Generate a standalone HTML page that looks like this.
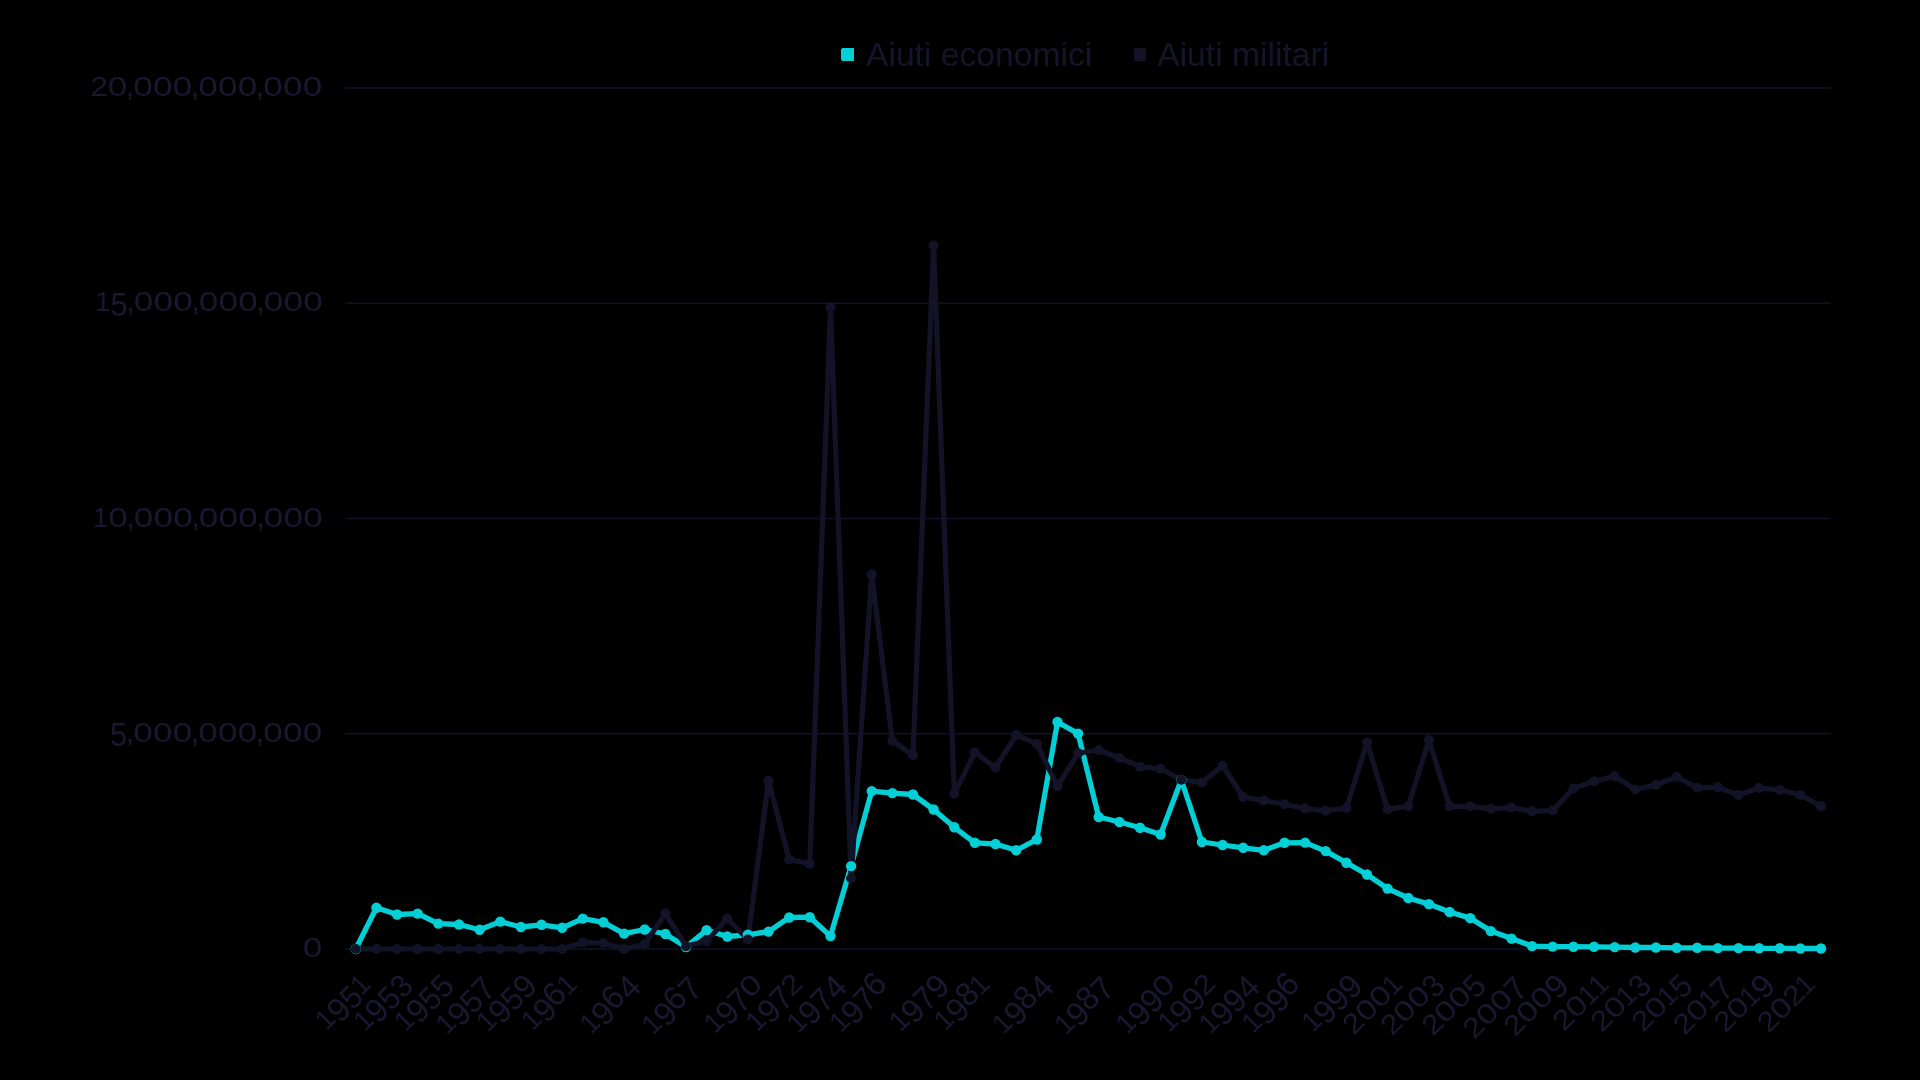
<!DOCTYPE html>
<html lang="it"><head><meta charset="utf-8"><title>Aiuti economici e militari</title>
<style>html,body{margin:0;padding:0;background:#000;overflow:hidden}svg{display:block;will-change:transform}text{font-family:"Liberation Sans",sans-serif;}</style></head><body>
<svg width="1920" height="1080" viewBox="0 0 1920 1080">
<rect x="0" y="0" width="1920" height="1080" fill="#000"/>
<g stroke="#11112B" stroke-width="1.5" fill="none">
<line x1="345.2" y1="88.0" x2="1830.6" y2="88.0"/>
<line x1="345.2" y1="303.25" x2="1830.6" y2="303.25"/>
<line x1="345.2" y1="518.5" x2="1830.6" y2="518.5"/>
<line x1="345.2" y1="733.75" x2="1830.6" y2="733.75"/>
<line x1="345.2" y1="949.0" x2="1830.6" y2="949.0"/>
</g>
<g fill="#181930">
<text transform="translate(90.19 96.20) scale(1.142 1)" font-size="28.07">2</text><text transform="translate(107.63 96.20) scale(1.263 1)" font-size="27.82">0</text><text transform="translate(125.65 96.20) scale(1.019 1)" font-size="30.00">,</text><text transform="translate(133.23 96.20) scale(1.263 1)" font-size="27.82">0</text><text transform="translate(152.93 96.20) scale(1.263 1)" font-size="27.82">0</text><text transform="translate(172.63 96.20) scale(1.263 1)" font-size="27.82">0</text><text transform="translate(190.65 96.20) scale(1.019 1)" font-size="30.00">,</text><text transform="translate(198.23 96.20) scale(1.263 1)" font-size="27.82">0</text><text transform="translate(217.93 96.20) scale(1.263 1)" font-size="27.82">0</text><text transform="translate(237.63 96.20) scale(1.263 1)" font-size="27.82">0</text><text transform="translate(255.65 96.20) scale(1.019 1)" font-size="30.00">,</text><text transform="translate(263.23 96.20) scale(1.263 1)" font-size="27.82">0</text><text transform="translate(282.93 96.20) scale(1.263 1)" font-size="27.82">0</text><text transform="translate(302.63 96.20) scale(1.263 1)" font-size="27.82">0</text>
<text transform="translate(95.32 311.45) scale(0.981 1)" font-size="27.91">1</text><text transform="translate(110.57 315.65) scale(0.951 1)" font-size="32.39">5</text><text transform="translate(126.25 311.45) scale(1.019 1)" font-size="30.00">,</text><text transform="translate(133.83 311.45) scale(1.263 1)" font-size="27.82">0</text><text transform="translate(153.53 311.45) scale(1.263 1)" font-size="27.82">0</text><text transform="translate(173.23 311.45) scale(1.263 1)" font-size="27.82">0</text><text transform="translate(191.25 311.45) scale(1.019 1)" font-size="30.00">,</text><text transform="translate(198.83 311.45) scale(1.263 1)" font-size="27.82">0</text><text transform="translate(218.53 311.45) scale(1.263 1)" font-size="27.82">0</text><text transform="translate(238.23 311.45) scale(1.263 1)" font-size="27.82">0</text><text transform="translate(256.25 311.45) scale(1.019 1)" font-size="30.00">,</text><text transform="translate(263.83 311.45) scale(1.263 1)" font-size="27.82">0</text><text transform="translate(283.53 311.45) scale(1.263 1)" font-size="27.82">0</text><text transform="translate(303.23 311.45) scale(1.263 1)" font-size="27.82">0</text>
<text transform="translate(93.12 526.70) scale(0.981 1)" font-size="27.91">1</text><text transform="translate(108.23 526.70) scale(1.263 1)" font-size="27.82">0</text><text transform="translate(126.25 526.70) scale(1.019 1)" font-size="30.00">,</text><text transform="translate(133.83 526.70) scale(1.263 1)" font-size="27.82">0</text><text transform="translate(153.53 526.70) scale(1.263 1)" font-size="27.82">0</text><text transform="translate(173.23 526.70) scale(1.263 1)" font-size="27.82">0</text><text transform="translate(191.25 526.70) scale(1.019 1)" font-size="30.00">,</text><text transform="translate(198.83 526.70) scale(1.263 1)" font-size="27.82">0</text><text transform="translate(218.53 526.70) scale(1.263 1)" font-size="27.82">0</text><text transform="translate(238.23 526.70) scale(1.263 1)" font-size="27.82">0</text><text transform="translate(256.25 526.70) scale(1.019 1)" font-size="30.00">,</text><text transform="translate(263.83 526.70) scale(1.263 1)" font-size="27.82">0</text><text transform="translate(283.53 526.70) scale(1.263 1)" font-size="27.82">0</text><text transform="translate(303.23 526.70) scale(1.263 1)" font-size="27.82">0</text>
<text transform="translate(109.97 746.15) scale(0.951 1)" font-size="32.39">5</text><text transform="translate(125.65 741.95) scale(1.019 1)" font-size="30.00">,</text><text transform="translate(133.23 741.95) scale(1.263 1)" font-size="27.82">0</text><text transform="translate(152.93 741.95) scale(1.263 1)" font-size="27.82">0</text><text transform="translate(172.63 741.95) scale(1.263 1)" font-size="27.82">0</text><text transform="translate(190.65 741.95) scale(1.019 1)" font-size="30.00">,</text><text transform="translate(198.23 741.95) scale(1.263 1)" font-size="27.82">0</text><text transform="translate(217.93 741.95) scale(1.263 1)" font-size="27.82">0</text><text transform="translate(237.63 741.95) scale(1.263 1)" font-size="27.82">0</text><text transform="translate(255.65 741.95) scale(1.019 1)" font-size="30.00">,</text><text transform="translate(263.23 741.95) scale(1.263 1)" font-size="27.82">0</text><text transform="translate(282.93 741.95) scale(1.263 1)" font-size="27.82">0</text><text transform="translate(302.63 741.95) scale(1.263 1)" font-size="27.82">0</text>
<text transform="translate(302.73 957.20) scale(1.263 1)" font-size="27.82">0</text>
</g>
<g fill="#181930">
<g transform="translate(371.3 986.5999999999999) rotate(-45)"><text transform="translate(-63.28 0.00) scale(0.981 1)" font-size="27.91">1</text><text transform="translate(-48.34 4.40) scale(0.996 1)" font-size="33.05">9</text><text transform="translate(-30.23 4.20) scale(0.951 1)" font-size="32.39">5</text><text transform="translate(-13.88 0.00) scale(0.981 1)" font-size="27.91">1</text></g>
<g transform="translate(411.1 985.8) rotate(-45)"><text transform="translate(-65.68 0.00) scale(0.981 1)" font-size="27.91">1</text><text transform="translate(-50.74 4.40) scale(0.996 1)" font-size="33.05">9</text><text transform="translate(-32.63 4.20) scale(0.951 1)" font-size="32.39">5</text><text transform="translate(-15.34 4.20) scale(0.930 1)" font-size="32.20">3</text></g>
<g transform="translate(452.3 985.8) rotate(-45)"><text transform="translate(-66.08 0.00) scale(0.981 1)" font-size="27.91">1</text><text transform="translate(-51.14 4.40) scale(0.996 1)" font-size="33.05">9</text><text transform="translate(-33.03 4.20) scale(0.951 1)" font-size="32.39">5</text><text transform="translate(-15.83 4.20) scale(0.951 1)" font-size="32.39">5</text></g>
<g transform="translate(493.6 988.8) rotate(-45)"><text transform="translate(-65.88 0.00) scale(0.981 1)" font-size="27.91">1</text><text transform="translate(-50.94 4.40) scale(0.996 1)" font-size="33.05">9</text><text transform="translate(-32.83 4.20) scale(0.951 1)" font-size="32.39">5</text><text transform="translate(-16.02 4.20) scale(0.956 1)" font-size="33.14">7</text></g>
<g transform="translate(534.9 985.8) rotate(-45)"><text transform="translate(-66.68 0.00) scale(0.981 1)" font-size="27.91">1</text><text transform="translate(-51.74 4.40) scale(0.996 1)" font-size="33.05">9</text><text transform="translate(-33.63 4.20) scale(0.951 1)" font-size="32.39">5</text><text transform="translate(-16.74 4.40) scale(0.996 1)" font-size="33.05">9</text></g>
<g transform="translate(577.7 986.5999999999999) rotate(-45)"><text transform="translate(-63.88 0.00) scale(0.981 1)" font-size="27.91">1</text><text transform="translate(-48.94 4.40) scale(0.996 1)" font-size="33.05">9</text><text transform="translate(-31.27 0.00) scale(0.997 1)" font-size="33.05">6</text><text transform="translate(-13.88 0.00) scale(0.981 1)" font-size="27.91">1</text></g>
<g transform="translate(639.2 986.5999999999999) rotate(-45)"><text transform="translate(-68.28 0.00) scale(0.981 1)" font-size="27.91">1</text><text transform="translate(-53.34 4.40) scale(0.996 1)" font-size="33.05">9</text><text transform="translate(-35.67 0.00) scale(0.997 1)" font-size="33.05">6</text><text transform="translate(-16.94 4.20) scale(0.970 1)" font-size="33.14">4</text></g>
<g transform="translate(700.0 988.8) rotate(-45)"><text transform="translate(-66.48 0.00) scale(0.981 1)" font-size="27.91">1</text><text transform="translate(-51.54 4.40) scale(0.996 1)" font-size="33.05">9</text><text transform="translate(-33.87 0.00) scale(0.997 1)" font-size="33.05">6</text><text transform="translate(-16.02 4.20) scale(0.956 1)" font-size="33.14">7</text></g>
<g transform="translate(763.1 986.4) rotate(-45)"><text transform="translate(-68.08 0.00) scale(0.981 1)" font-size="27.91">1</text><text transform="translate(-53.14 4.40) scale(0.996 1)" font-size="33.05">9</text><text transform="translate(-35.42 4.20) scale(0.956 1)" font-size="33.14">7</text><text transform="translate(-18.17 0.00) scale(1.263 1)" font-size="27.82">0</text></g>
<g transform="translate(803.5 986.0999999999999) rotate(-45)"><text transform="translate(-65.88 0.00) scale(0.981 1)" font-size="27.91">1</text><text transform="translate(-50.94 4.40) scale(0.996 1)" font-size="33.05">9</text><text transform="translate(-33.22 4.20) scale(0.956 1)" font-size="33.14">7</text><text transform="translate(-16.21 0.00) scale(1.142 1)" font-size="28.07">2</text></g>
<g transform="translate(845.6 986.5999999999999) rotate(-45)"><text transform="translate(-67.48 0.00) scale(0.981 1)" font-size="27.91">1</text><text transform="translate(-52.54 4.40) scale(0.996 1)" font-size="33.05">9</text><text transform="translate(-34.82 4.20) scale(0.956 1)" font-size="33.14">7</text><text transform="translate(-16.94 4.20) scale(0.970 1)" font-size="33.14">4</text></g>
<g transform="translate(887.7 986.5999999999999) rotate(-45)"><text transform="translate(-66.48 0.00) scale(0.981 1)" font-size="27.91">1</text><text transform="translate(-51.54 4.40) scale(0.996 1)" font-size="33.05">9</text><text transform="translate(-33.82 4.20) scale(0.956 1)" font-size="33.14">7</text><text transform="translate(-16.87 0.00) scale(0.997 1)" font-size="33.05">6</text></g>
<g transform="translate(947.6 985.8) rotate(-45)"><text transform="translate(-66.48 0.00) scale(0.981 1)" font-size="27.91">1</text><text transform="translate(-51.54 4.40) scale(0.996 1)" font-size="33.05">9</text><text transform="translate(-33.82 4.20) scale(0.956 1)" font-size="33.14">7</text><text transform="translate(-16.74 4.40) scale(0.996 1)" font-size="33.05">9</text></g>
<g transform="translate(990.4 986.5999999999999) rotate(-45)"><text transform="translate(-63.88 0.00) scale(0.981 1)" font-size="27.91">1</text><text transform="translate(-48.94 4.40) scale(0.996 1)" font-size="33.05">9</text><text transform="translate(-31.01 0.00) scale(0.980 1)" font-size="33.05">8</text><text transform="translate(-13.88 0.00) scale(0.981 1)" font-size="27.91">1</text></g>
<g transform="translate(1051.9 986.5999999999999) rotate(-45)"><text transform="translate(-68.28 0.00) scale(0.981 1)" font-size="27.91">1</text><text transform="translate(-53.34 4.40) scale(0.996 1)" font-size="33.05">9</text><text transform="translate(-35.41 0.00) scale(0.980 1)" font-size="33.05">8</text><text transform="translate(-16.94 4.20) scale(0.970 1)" font-size="33.14">4</text></g>
<g transform="translate(1112.7 988.8) rotate(-45)"><text transform="translate(-66.48 0.00) scale(0.981 1)" font-size="27.91">1</text><text transform="translate(-51.54 4.40) scale(0.996 1)" font-size="33.05">9</text><text transform="translate(-33.61 0.00) scale(0.980 1)" font-size="33.05">8</text><text transform="translate(-16.02 4.20) scale(0.956 1)" font-size="33.14">7</text></g>
<g transform="translate(1175.8 986.4) rotate(-45)"><text transform="translate(-68.88 0.00) scale(0.981 1)" font-size="27.91">1</text><text transform="translate(-53.94 4.40) scale(0.996 1)" font-size="33.05">9</text><text transform="translate(-36.14 4.40) scale(0.996 1)" font-size="33.05">9</text><text transform="translate(-18.17 0.00) scale(1.263 1)" font-size="27.82">0</text></g>
<g transform="translate(1216.2 986.0999999999999) rotate(-45)"><text transform="translate(-66.68 0.00) scale(0.981 1)" font-size="27.91">1</text><text transform="translate(-51.74 4.40) scale(0.996 1)" font-size="33.05">9</text><text transform="translate(-33.94 4.40) scale(0.996 1)" font-size="33.05">9</text><text transform="translate(-16.21 0.00) scale(1.142 1)" font-size="28.07">2</text></g>
<g transform="translate(1258.3 986.5999999999999) rotate(-45)"><text transform="translate(-68.28 0.00) scale(0.981 1)" font-size="27.91">1</text><text transform="translate(-53.34 4.40) scale(0.996 1)" font-size="33.05">9</text><text transform="translate(-35.54 4.40) scale(0.996 1)" font-size="33.05">9</text><text transform="translate(-16.94 4.20) scale(0.970 1)" font-size="33.14">4</text></g>
<g transform="translate(1300.5 986.5999999999999) rotate(-45)"><text transform="translate(-67.28 0.00) scale(0.981 1)" font-size="27.91">1</text><text transform="translate(-52.34 4.40) scale(0.996 1)" font-size="33.05">9</text><text transform="translate(-34.54 4.40) scale(0.996 1)" font-size="33.05">9</text><text transform="translate(-16.87 0.00) scale(0.997 1)" font-size="33.05">6</text></g>
<g transform="translate(1360.4 985.8) rotate(-45)"><text transform="translate(-67.28 0.00) scale(0.981 1)" font-size="27.91">1</text><text transform="translate(-52.34 4.40) scale(0.996 1)" font-size="33.05">9</text><text transform="translate(-34.54 4.40) scale(0.996 1)" font-size="33.05">9</text><text transform="translate(-16.74 4.40) scale(0.996 1)" font-size="33.05">9</text></g>
<g transform="translate(1403.1 986.5999999999999) rotate(-45)"><text transform="translate(-69.71 0.00) scale(1.142 1)" font-size="28.07">2</text><text transform="translate(-52.27 0.00) scale(1.263 1)" font-size="27.82">0</text><text transform="translate(-32.57 0.00) scale(1.263 1)" font-size="27.82">0</text><text transform="translate(-13.88 0.00) scale(0.981 1)" font-size="27.91">1</text></g>
<g transform="translate(1442.9 985.8) rotate(-45)"><text transform="translate(-72.11 0.00) scale(1.142 1)" font-size="28.07">2</text><text transform="translate(-54.67 0.00) scale(1.263 1)" font-size="27.82">0</text><text transform="translate(-34.97 0.00) scale(1.263 1)" font-size="27.82">0</text><text transform="translate(-15.34 4.20) scale(0.930 1)" font-size="32.20">3</text></g>
<g transform="translate(1484.2 985.8) rotate(-45)"><text transform="translate(-72.51 0.00) scale(1.142 1)" font-size="28.07">2</text><text transform="translate(-55.07 0.00) scale(1.263 1)" font-size="27.82">0</text><text transform="translate(-35.37 0.00) scale(1.263 1)" font-size="27.82">0</text><text transform="translate(-15.83 4.20) scale(0.951 1)" font-size="32.39">5</text></g>
<g transform="translate(1525.5 988.8) rotate(-45)"><text transform="translate(-72.31 0.00) scale(1.142 1)" font-size="28.07">2</text><text transform="translate(-54.87 0.00) scale(1.263 1)" font-size="27.82">0</text><text transform="translate(-35.17 0.00) scale(1.263 1)" font-size="27.82">0</text><text transform="translate(-16.02 4.20) scale(0.956 1)" font-size="33.14">7</text></g>
<g transform="translate(1566.7 985.8) rotate(-45)"><text transform="translate(-73.11 0.00) scale(1.142 1)" font-size="28.07">2</text><text transform="translate(-55.67 0.00) scale(1.263 1)" font-size="27.82">0</text><text transform="translate(-35.97 0.00) scale(1.263 1)" font-size="27.82">0</text><text transform="translate(-16.74 4.40) scale(0.996 1)" font-size="33.05">9</text></g>
<g transform="translate(1609.5 986.5999999999999) rotate(-45)"><text transform="translate(-64.41 0.00) scale(1.142 1)" font-size="28.07">2</text><text transform="translate(-46.97 0.00) scale(1.263 1)" font-size="27.82">0</text><text transform="translate(-28.28 0.00) scale(0.981 1)" font-size="27.91">1</text><text transform="translate(-13.88 0.00) scale(0.981 1)" font-size="27.91">1</text></g>
<g transform="translate(1649.3 985.8) rotate(-45)"><text transform="translate(-66.81 0.00) scale(1.142 1)" font-size="28.07">2</text><text transform="translate(-49.37 0.00) scale(1.263 1)" font-size="27.82">0</text><text transform="translate(-30.68 0.00) scale(0.981 1)" font-size="27.91">1</text><text transform="translate(-15.34 4.20) scale(0.930 1)" font-size="32.20">3</text></g>
<g transform="translate(1690.6 985.8) rotate(-45)"><text transform="translate(-67.21 0.00) scale(1.142 1)" font-size="28.07">2</text><text transform="translate(-49.77 0.00) scale(1.263 1)" font-size="27.82">0</text><text transform="translate(-31.08 0.00) scale(0.981 1)" font-size="27.91">1</text><text transform="translate(-15.83 4.20) scale(0.951 1)" font-size="32.39">5</text></g>
<g transform="translate(1731.8 988.8) rotate(-45)"><text transform="translate(-67.01 0.00) scale(1.142 1)" font-size="28.07">2</text><text transform="translate(-49.57 0.00) scale(1.263 1)" font-size="27.82">0</text><text transform="translate(-30.88 0.00) scale(0.981 1)" font-size="27.91">1</text><text transform="translate(-16.02 4.20) scale(0.956 1)" font-size="33.14">7</text></g>
<g transform="translate(1773.1 985.8) rotate(-45)"><text transform="translate(-67.81 0.00) scale(1.142 1)" font-size="28.07">2</text><text transform="translate(-50.37 0.00) scale(1.263 1)" font-size="27.82">0</text><text transform="translate(-31.68 0.00) scale(0.981 1)" font-size="27.91">1</text><text transform="translate(-16.74 4.40) scale(0.996 1)" font-size="33.05">9</text></g>
<g transform="translate(1815.9 986.5999999999999) rotate(-45)"><text transform="translate(-67.21 0.00) scale(1.142 1)" font-size="28.07">2</text><text transform="translate(-49.77 0.00) scale(1.263 1)" font-size="27.82">0</text><text transform="translate(-30.61 0.00) scale(1.142 1)" font-size="28.07">2</text><text transform="translate(-13.88 0.00) scale(0.981 1)" font-size="27.91">1</text></g>
</g>
<path d="M842,48H854V61H842V60H841V49H842Z" fill="#03CFD6"/>
<text x="866.0" y="65.9" font-size="33" fill="#14152B" textLength="226.2" lengthAdjust="spacingAndGlyphs">Aiuti economici</text>
<rect x="1134" y="48" width="12" height="13" fill="#121327"/>
<text x="1157.2" y="65.9" font-size="33" fill="#14152B" textLength="172" lengthAdjust="spacingAndGlyphs">Aiuti militari</text>
<polyline points="355.8,949.0 376.4,907.8 397.1,914.5 417.7,913.6 438.3,923.6 459.0,924.5 479.6,929.8 500.3,921.6 520.9,927.0 541.5,924.8 562.2,927.8 582.8,918.6 603.4,922.3 624.1,933.6 644.7,929.5 665.4,934.0 686.0,947.0 706.6,930.1 727.3,936.5 747.9,934.8 768.5,931.6 789.2,917.5 809.8,917.2 830.5,936.1 851.1,866.1 871.7,791.1 892.4,793.1 913.0,794.5 933.6,809.5 954.3,827.3 974.9,842.8 995.5,844.0 1016.2,850.3 1036.8,839.5 1057.5,722.0 1078.1,733.6 1098.7,817.0 1119.4,822.0 1140.0,827.8 1160.6,834.5 1181.3,780.0 1201.9,842.0 1222.6,845.0 1243.2,847.8 1263.8,850.3 1284.5,842.8 1305.1,842.6 1325.7,851.1 1346.4,862.8 1367.0,874.5 1387.6,888.6 1408.3,898.0 1428.9,904.1 1449.6,912.0 1470.2,918.1 1490.8,931.1 1511.5,938.6 1532.1,946.1 1552.7,946.6 1573.4,946.7 1594.0,946.8 1614.7,947.1 1635.3,947.5 1655.9,947.5 1676.6,947.8 1697.2,947.8 1717.8,948.1 1738.5,948.1 1759.1,948.3 1779.8,948.3 1800.4,948.5 1821.0,948.5" fill="none" stroke="#03CFD6" stroke-width="5.3" stroke-linejoin="round" stroke-linecap="round"/>
<polyline points="355.8,949.0 376.4,949.0 397.1,949.0 417.7,949.0 438.3,949.0 459.0,949.0 479.6,949.0 500.3,949.0 520.9,949.0 541.5,949.0 562.2,949.0 582.8,942.5 603.4,943.0 624.1,949.0 644.7,944.2 665.4,913.3 686.0,946.2 706.6,941.0 727.3,918.5 747.9,939.5 768.5,780.8 789.2,859.5 809.8,863.7 830.5,307.1 851.1,878.3 871.7,574.4 892.4,740.8 913.0,755.0 933.6,245.6 954.3,793.7 974.9,752.5 995.5,767.5 1016.2,735.0 1036.8,743.8 1057.5,786.2 1078.1,753.3 1098.7,750.0 1119.4,758.0 1140.0,766.7 1160.6,768.8 1181.3,779.7 1201.9,782.5 1222.6,765.8 1243.2,797.0 1263.8,800.5 1284.5,804.2 1305.1,808.5 1325.7,810.8 1346.4,808.0 1367.0,742.5 1387.6,809.2 1408.3,806.3 1428.9,740.0 1449.6,806.3 1470.2,806.3 1490.8,808.8 1511.5,807.5 1532.1,811.3 1552.7,810.5 1573.4,788.5 1594.0,781.3 1614.7,776.3 1635.3,789.5 1655.9,785.0 1676.6,777.0 1697.2,787.8 1717.8,787.2 1738.5,795.0 1759.1,788.0 1779.8,790.0 1800.4,795.0 1821.0,806.3" fill="none" stroke="#121327" stroke-width="5.2" stroke-linejoin="round" stroke-linecap="round"/>
<g fill="#03CFD6">
<circle cx="355.8" cy="949.0" r="5.2"/>
<circle cx="376.4" cy="907.8" r="5.2"/>
<circle cx="397.1" cy="914.5" r="5.2"/>
<circle cx="417.7" cy="913.6" r="5.2"/>
<circle cx="438.3" cy="923.6" r="5.2"/>
<circle cx="459.0" cy="924.5" r="5.2"/>
<circle cx="479.6" cy="929.8" r="5.2"/>
<circle cx="500.3" cy="921.6" r="5.2"/>
<circle cx="520.9" cy="927.0" r="5.2"/>
<circle cx="541.5" cy="924.8" r="5.2"/>
<circle cx="562.2" cy="927.8" r="5.2"/>
<circle cx="582.8" cy="918.6" r="5.2"/>
<circle cx="603.4" cy="922.3" r="5.2"/>
<circle cx="624.1" cy="933.6" r="5.2"/>
<circle cx="644.7" cy="929.5" r="5.2"/>
<circle cx="665.4" cy="934.0" r="5.2"/>
<circle cx="686.0" cy="947.0" r="5.2"/>
<circle cx="706.6" cy="930.1" r="5.2"/>
<circle cx="727.3" cy="936.5" r="5.2"/>
<circle cx="747.9" cy="934.8" r="5.2"/>
<circle cx="768.5" cy="931.6" r="5.2"/>
<circle cx="789.2" cy="917.5" r="5.2"/>
<circle cx="809.8" cy="917.2" r="5.2"/>
<circle cx="830.5" cy="936.1" r="5.2"/>
<circle cx="851.1" cy="866.1" r="5.2"/>
<circle cx="871.7" cy="791.1" r="5.2"/>
<circle cx="892.4" cy="793.1" r="5.2"/>
<circle cx="913.0" cy="794.5" r="5.2"/>
<circle cx="933.6" cy="809.5" r="5.2"/>
<circle cx="954.3" cy="827.3" r="5.2"/>
<circle cx="974.9" cy="842.8" r="5.2"/>
<circle cx="995.5" cy="844.0" r="5.2"/>
<circle cx="1016.2" cy="850.3" r="5.2"/>
<circle cx="1036.8" cy="839.5" r="5.2"/>
<circle cx="1057.5" cy="722.0" r="5.2"/>
<circle cx="1078.1" cy="733.6" r="5.2"/>
<circle cx="1098.7" cy="817.0" r="5.2"/>
<circle cx="1119.4" cy="822.0" r="5.2"/>
<circle cx="1140.0" cy="827.8" r="5.2"/>
<circle cx="1160.6" cy="834.5" r="5.2"/>
<circle cx="1181.3" cy="780.0" r="5.2"/>
<circle cx="1201.9" cy="842.0" r="5.2"/>
<circle cx="1222.6" cy="845.0" r="5.2"/>
<circle cx="1243.2" cy="847.8" r="5.2"/>
<circle cx="1263.8" cy="850.3" r="5.2"/>
<circle cx="1284.5" cy="842.8" r="5.2"/>
<circle cx="1305.1" cy="842.6" r="5.2"/>
<circle cx="1325.7" cy="851.1" r="5.2"/>
<circle cx="1346.4" cy="862.8" r="5.2"/>
<circle cx="1367.0" cy="874.5" r="5.2"/>
<circle cx="1387.6" cy="888.6" r="5.2"/>
<circle cx="1408.3" cy="898.0" r="5.2"/>
<circle cx="1428.9" cy="904.1" r="5.2"/>
<circle cx="1449.6" cy="912.0" r="5.2"/>
<circle cx="1470.2" cy="918.1" r="5.2"/>
<circle cx="1490.8" cy="931.1" r="5.2"/>
<circle cx="1511.5" cy="938.6" r="5.2"/>
<circle cx="1532.1" cy="946.1" r="5.2"/>
<circle cx="1552.7" cy="946.6" r="5.2"/>
<circle cx="1573.4" cy="946.7" r="5.2"/>
<circle cx="1594.0" cy="946.8" r="5.2"/>
<circle cx="1614.7" cy="947.1" r="5.2"/>
<circle cx="1635.3" cy="947.5" r="5.2"/>
<circle cx="1655.9" cy="947.5" r="5.2"/>
<circle cx="1676.6" cy="947.8" r="5.2"/>
<circle cx="1697.2" cy="947.8" r="5.2"/>
<circle cx="1717.8" cy="948.1" r="5.2"/>
<circle cx="1738.5" cy="948.1" r="5.2"/>
<circle cx="1759.1" cy="948.3" r="5.2"/>
<circle cx="1779.8" cy="948.3" r="5.2"/>
<circle cx="1800.4" cy="948.5" r="5.2"/>
<circle cx="1821.0" cy="948.5" r="5.2"/>
</g>
<g fill="#121327">
<circle cx="355.8" cy="949.0" r="5.05"/>
<circle cx="376.4" cy="949.0" r="5.05"/>
<circle cx="397.1" cy="949.0" r="5.05"/>
<circle cx="417.7" cy="949.0" r="5.05"/>
<circle cx="438.3" cy="949.0" r="5.05"/>
<circle cx="459.0" cy="949.0" r="5.05"/>
<circle cx="479.6" cy="949.0" r="5.05"/>
<circle cx="500.3" cy="949.0" r="5.05"/>
<circle cx="520.9" cy="949.0" r="5.05"/>
<circle cx="541.5" cy="949.0" r="5.05"/>
<circle cx="562.2" cy="949.0" r="5.05"/>
<circle cx="582.8" cy="942.5" r="5.05"/>
<circle cx="603.4" cy="943.0" r="5.05"/>
<circle cx="624.1" cy="949.0" r="5.05"/>
<circle cx="644.7" cy="944.2" r="5.05"/>
<circle cx="665.4" cy="913.3" r="5.05"/>
<circle cx="686.0" cy="946.2" r="5.05"/>
<circle cx="706.6" cy="941.0" r="5.05"/>
<circle cx="727.3" cy="918.5" r="5.05"/>
<circle cx="747.9" cy="939.5" r="5.05"/>
<circle cx="768.5" cy="780.8" r="5.05"/>
<circle cx="789.2" cy="859.5" r="5.05"/>
<circle cx="809.8" cy="863.7" r="5.05"/>
<circle cx="830.5" cy="307.1" r="5.05"/>
<circle cx="851.1" cy="878.3" r="5.05"/>
<circle cx="871.7" cy="574.4" r="5.05"/>
<circle cx="892.4" cy="740.8" r="5.05"/>
<circle cx="913.0" cy="755.0" r="5.05"/>
<circle cx="933.6" cy="245.6" r="5.05"/>
<circle cx="954.3" cy="793.7" r="5.05"/>
<circle cx="974.9" cy="752.5" r="5.05"/>
<circle cx="995.5" cy="767.5" r="5.05"/>
<circle cx="1016.2" cy="735.0" r="5.05"/>
<circle cx="1036.8" cy="743.8" r="5.05"/>
<circle cx="1057.5" cy="786.2" r="5.05"/>
<circle cx="1078.1" cy="753.3" r="5.05"/>
<circle cx="1098.7" cy="750.0" r="5.05"/>
<circle cx="1119.4" cy="758.0" r="5.05"/>
<circle cx="1140.0" cy="766.7" r="5.05"/>
<circle cx="1160.6" cy="768.8" r="5.05"/>
<circle cx="1181.3" cy="779.7" r="5.05"/>
<circle cx="1201.9" cy="782.5" r="5.05"/>
<circle cx="1222.6" cy="765.8" r="5.05"/>
<circle cx="1243.2" cy="797.0" r="5.05"/>
<circle cx="1263.8" cy="800.5" r="5.05"/>
<circle cx="1284.5" cy="804.2" r="5.05"/>
<circle cx="1305.1" cy="808.5" r="5.05"/>
<circle cx="1325.7" cy="810.8" r="5.05"/>
<circle cx="1346.4" cy="808.0" r="5.05"/>
<circle cx="1367.0" cy="742.5" r="5.05"/>
<circle cx="1387.6" cy="809.2" r="5.05"/>
<circle cx="1408.3" cy="806.3" r="5.05"/>
<circle cx="1428.9" cy="740.0" r="5.05"/>
<circle cx="1449.6" cy="806.3" r="5.05"/>
<circle cx="1470.2" cy="806.3" r="5.05"/>
<circle cx="1490.8" cy="808.8" r="5.05"/>
<circle cx="1511.5" cy="807.5" r="5.05"/>
<circle cx="1532.1" cy="811.3" r="5.05"/>
<circle cx="1552.7" cy="810.5" r="5.05"/>
<circle cx="1573.4" cy="788.5" r="5.05"/>
<circle cx="1594.0" cy="781.3" r="5.05"/>
<circle cx="1614.7" cy="776.3" r="5.05"/>
<circle cx="1635.3" cy="789.5" r="5.05"/>
<circle cx="1655.9" cy="785.0" r="5.05"/>
<circle cx="1676.6" cy="777.0" r="5.05"/>
<circle cx="1697.2" cy="787.8" r="5.05"/>
<circle cx="1717.8" cy="787.2" r="5.05"/>
<circle cx="1738.5" cy="795.0" r="5.05"/>
<circle cx="1759.1" cy="788.0" r="5.05"/>
<circle cx="1779.8" cy="790.0" r="5.05"/>
<circle cx="1800.4" cy="795.0" r="5.05"/>
<circle cx="1821.0" cy="806.3" r="5.05"/>
</g>
</svg></body></html>
